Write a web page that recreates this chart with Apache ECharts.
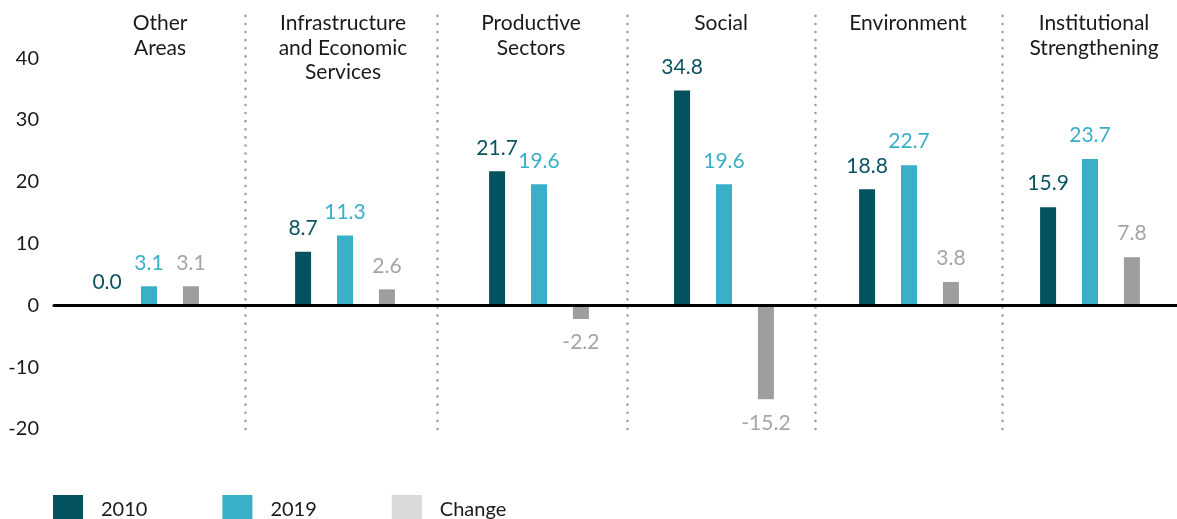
<!DOCTYPE html>
<html>
<head>
<meta charset="utf-8">
<script src="https://cdn.jsdelivr.net/npm/echarts@6/dist/echarts.min.js"></script>
<style>
  html, body { margin: 0; padding: 0; background: #fff; }
  #main { width: 1177px; height: 519px; }
</style>
</head>
<body>
<div id="main"></div>
<script>
// data
var categories = ['Other\nAreas', 'Infrastructure\nand Economic\nServices', 'Productive\nSectors', 'Social', 'Environment', 'Institutional\nStrengthening'];
var seriesNames = ['2010', '2019', 'Change'];
var values2010 = [0.0, 8.7, 21.7, 34.8, 18.8, 15.9];
var values2019 = [3.1, 11.3, 19.6, 19.6, 22.7, 23.7];
var valuesChange = [3.1, 2.6, -2.2, -15.2, 3.8, 7.8];
var yTicks = [-20, -10, 0, 10, 20, 30, 40];

// layout
var groupCenter = [149, 345, 539, 724, 909, 1093];
var labelShift = [11, -2, -8, -3, -1, 4];
var sepX = [245, 437, 627, 815, 1002];
var groupW = 180;
var barColors = ['#02525f', '#3aafc8', '#9e9e9e'];
var labelColors = ['#0b5563', '#3aafc8', '#a5a5a5'];
var font = 'Lato';

var myChart = echarts.init(document.getElementById('main'));
var allValues = [values2010, values2019, valuesChange];

var grid = [], xAxis = [], yAxis = [], series = [];
for (var i = 0; i < categories.length; i++) {
    var left = groupCenter[i] - groupW / 2;
    var sh = labelShift[i];
    grid.push({ left: left, width: groupW, top: 15, bottom: 90 });
    xAxis.push({
        gridIndex: i,
        type: 'category',
        position: 'top',
        data: [categories[i]],
        axisLine: { show: false },
        axisTick: { show: false },
        axisLabel: {
            verticalAlign: 'top',
            margin: 4,
            fontFamily: font,
            fontSize: 21,
            lineHeight: 24.5,
            color: '#1a1a1a',
            padding: sh > 0 ? [0, 0, 0, 2 * sh] : [0, -2 * sh, 0, 0]
        }
    });
    yAxis.push({
        gridIndex: i,
        type: 'value',
        min: yTicks[0],
        max: 47,
        interval: 10,
        offset: i > 0 ? left - sepX[i - 1] : 0,
        axisLabel: { show: false },
        axisTick: { show: false },
        splitLine: { show: false },
        axisLine: {
            show: i > 0,
            lineStyle: { color: '#9c9c9c', width: 2.5, type: [0.1, 8], cap: 'round' }
        }
    });
    for (var s = 0; s < 3; s++) {
        var v = allValues[s][i];
        series.push({
            name: seriesNames[s],
            type: 'bar',
            xAxisIndex: i,
            yAxisIndex: i,
            barWidth: 16,
            barGap: '162%',
            itemStyle: { color: barColors[s] },
            label: {
                show: true,
                distance: 13,
                fontFamily: font,
                fontSize: 21,
                color: labelColors[s],
                formatter: function (p) { return p.value.toFixed(1); }
            },
            data: [{ value: v, label: { position: v < 0 ? 'bottom' : 'top' } }]
        });
    }
}

// overlay grid: y labels and zero line
var n = categories.length;
grid.push({ left: 54, right: 0, top: 15, bottom: 90 });
xAxis.push({
    gridIndex: n,
    type: 'value',
    min: 0,
    max: 1,
    z: 10,
    axisLine: { show: true, onZero: true, lineStyle: { color: '#000', width: 3 } },
    axisTick: { show: false },
    axisLabel: { show: false },
    splitLine: { show: false }
});
yAxis.push({
    gridIndex: n,
    type: 'value',
    min: yTicks[0],
    max: 47,
    interval: 10,
    axisLine: { show: false },
    axisTick: { show: false },
    splitLine: { show: false },
    axisLabel: {
        margin: 15,
        fontFamily: font,
        fontSize: 20,
        color: '#1a1a1a',
        formatter: function (val) { return yTicks.indexOf(val) >= 0 ? String(val) : ''; }
    }
});

var option = {
    animation: false,
    legend: {
        left: 53,
        top: 495,
        padding: 0,
        icon: 'rect',
        itemWidth: 30,
        itemHeight: 30,
        itemGap: 75,
        textStyle: { fontFamily: font, fontSize: 20, color: '#1a1a1a', padding: [0, 0, 0, 13] },
        data: ['2010', '2019', { name: 'Change', itemStyle: { color: '#d9d9d9' } }]
    },
    grid: grid,
    xAxis: xAxis,
    yAxis: yAxis,
    series: series
};
myChart.setOption(option);
window.addEventListener('resize', function () {
    myChart.resize();
});
</script>
</body>
</html>
